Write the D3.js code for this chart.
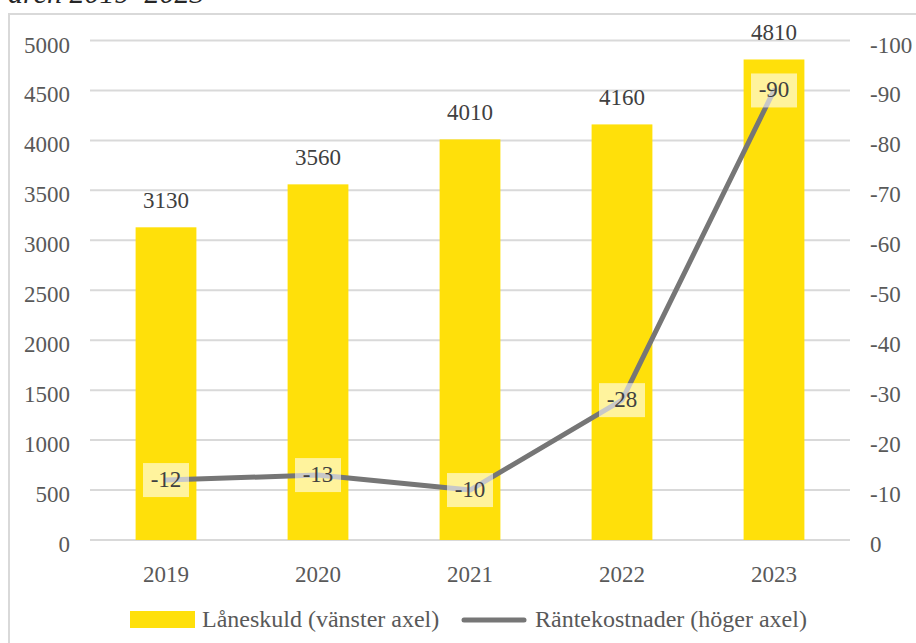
<!DOCTYPE html>
<html>
<head>
    <style>
        body { margin: 0; background: #fff; }
        svg text { font-family: "Liberation Serif", "Times New Roman", serif; }
        .tick text { fill: #595959; font-size: 23px; }
        .barlabel { fill: #404040; font-size: 23px; text-anchor: middle; }
        .linelabel { fill: #404040; font-size: 23px; text-anchor: middle; }
        .legend text { fill: #595959; font-size: 24px; }
    </style>
    <script src="https://d3js.org/d3.v7.min.js"></script>
</head>
<body>
    <svg width="916" height="643"></svg>
    <script>
        var years = ["2019", "2020", "2021", "2022", "2023"];
        var laneskuld = [3130, 3560, 4010, 4160, 4810];
        var rantekostnader = [-12, -13, -10, -28, -90];
        var leftTicks = [0, 500, 1000, 1500, 2000, 2500, 3000, 3500, 4000, 4500, 5000];
        var rightTicks = [0, -10, -20, -30, -40, -50, -60, -70, -80, -90, -100];

        var svg = d3.select("svg");
        var yellow = "#ffe00a", grey = "#767676", gridc = "#d9d9d9";
        var fmt = function(d){ return String(d); };

        // title is cut off at the top of the picture
        svg.append("text").attr("x", 8).attr("y", 3)
            .style("font-size", "30px").style("font-style", "italic").attr("fill", "#262626")
            .text("åren 2019–2023");
        svg.append("rect").attr("x", 9).attr("y", 14).attr("width", 940).attr("height", 660)
            .attr("fill", "none").attr("stroke", gridc).attr("stroke-width", 2);

        var x = d3.scaleBand().domain(years).range([90, 850]).paddingInner(0.6).paddingOuter(0.3);
        var yL = d3.scaleLinear().domain([0, 5000]).range([540, 40.5]);
        var yR = d3.scaleLinear().domain([0, -100]).range([540, 40.5]);

        // gridlines
        svg.append("g").selectAll("line").data(leftTicks).enter().append("line")
            .attr("x1", 90).attr("x2", 850)
            .attr("y1", function(d){ return yL(d); }).attr("y2", function(d){ return yL(d); })
            .attr("stroke", gridc).attr("stroke-width", 2);

        var left = svg.append("g").attr("transform", "translate(90,0)")
            .call(d3.axisLeft(yL).tickValues(leftTicks).tickFormat(fmt).tickSize(0).tickPadding(20));
        left.select(".domain").remove();
        left.selectAll("text").attr("dy", "0.5em");

        var right = svg.append("g").attr("transform", "translate(850,0)")
            .call(d3.axisRight(yR).tickValues(rightTicks).tickFormat(fmt).tickSize(0).tickPadding(20));
        right.select(".domain").remove();
        right.selectAll("text").attr("dy", "0.5em");

        var bottom = svg.append("g").attr("transform", "translate(0,540)")
            .call(d3.axisBottom(x).tickSize(0).tickPadding(26));
        bottom.select(".domain").remove();

        [left, right, bottom].forEach(function(a){ a.attr("font-family", null).attr("font-size", null); });

        // bars
        svg.append("g").selectAll("rect").data(laneskuld).enter().append("rect")
            .attr("x", function(d, i){ return x(years[i]); })
            .attr("y", function(d){ return yL(d); })
            .attr("width", x.bandwidth())
            .attr("height", function(d){ return yL(0) - yL(d); })
            .attr("fill", yellow);

        svg.append("g").selectAll("text").data(laneskuld).enter().append("text")
            .attr("class", "barlabel")
            .attr("x", function(d, i){ return x(years[i]) + x.bandwidth() / 2; })
            .attr("y", function(d){ return yL(d) - 19; })
            .text(function(d){ return d; });

        // line
        var cx = function(i){ return x(years[i]) + x.bandwidth() / 2; };
        var line = d3.line()
            .x(function(d, i){ return cx(i); })
            .y(function(d){ return yR(d); });
        svg.append("path").datum(rantekostnader).attr("d", line)
            .attr("fill", "none").attr("stroke", grey).attr("stroke-width", 5)
            .attr("stroke-linejoin", "round").attr("stroke-linecap", "round");

        var lab = svg.append("g").selectAll("g").data(rantekostnader).enter().append("g")
            .attr("transform", function(d, i){ return "translate(" + cx(i) + "," + yR(d) + ")"; });
        lab.append("rect").attr("x", -23).attr("y", -17).attr("width", 46).attr("height", 34)
            .attr("fill", "#fff").attr("fill-opacity", 0.6);
        lab.append("text").attr("class", "linelabel").attr("dy", "0.28em")
            .text(function(d){ return d; });

        // legend
        var lg = svg.append("g").attr("class", "legend");
        lg.append("rect").attr("x", 130).attr("y", 611).attr("width", 65).attr("height", 17).attr("fill", yellow);
        lg.append("text").attr("x", 202).attr("y", 627).text("Låneskuld (vänster axel)");
        lg.append("line").attr("x1", 464).attr("x2", 524).attr("y1", 620).attr("y2", 620)
            .attr("stroke", grey).attr("stroke-width", 5).attr("stroke-linecap", "round");
        lg.append("text").attr("x", 535).attr("y", 627).text("Räntekostnader (höger axel)");
    </script>
</body>
</html>
